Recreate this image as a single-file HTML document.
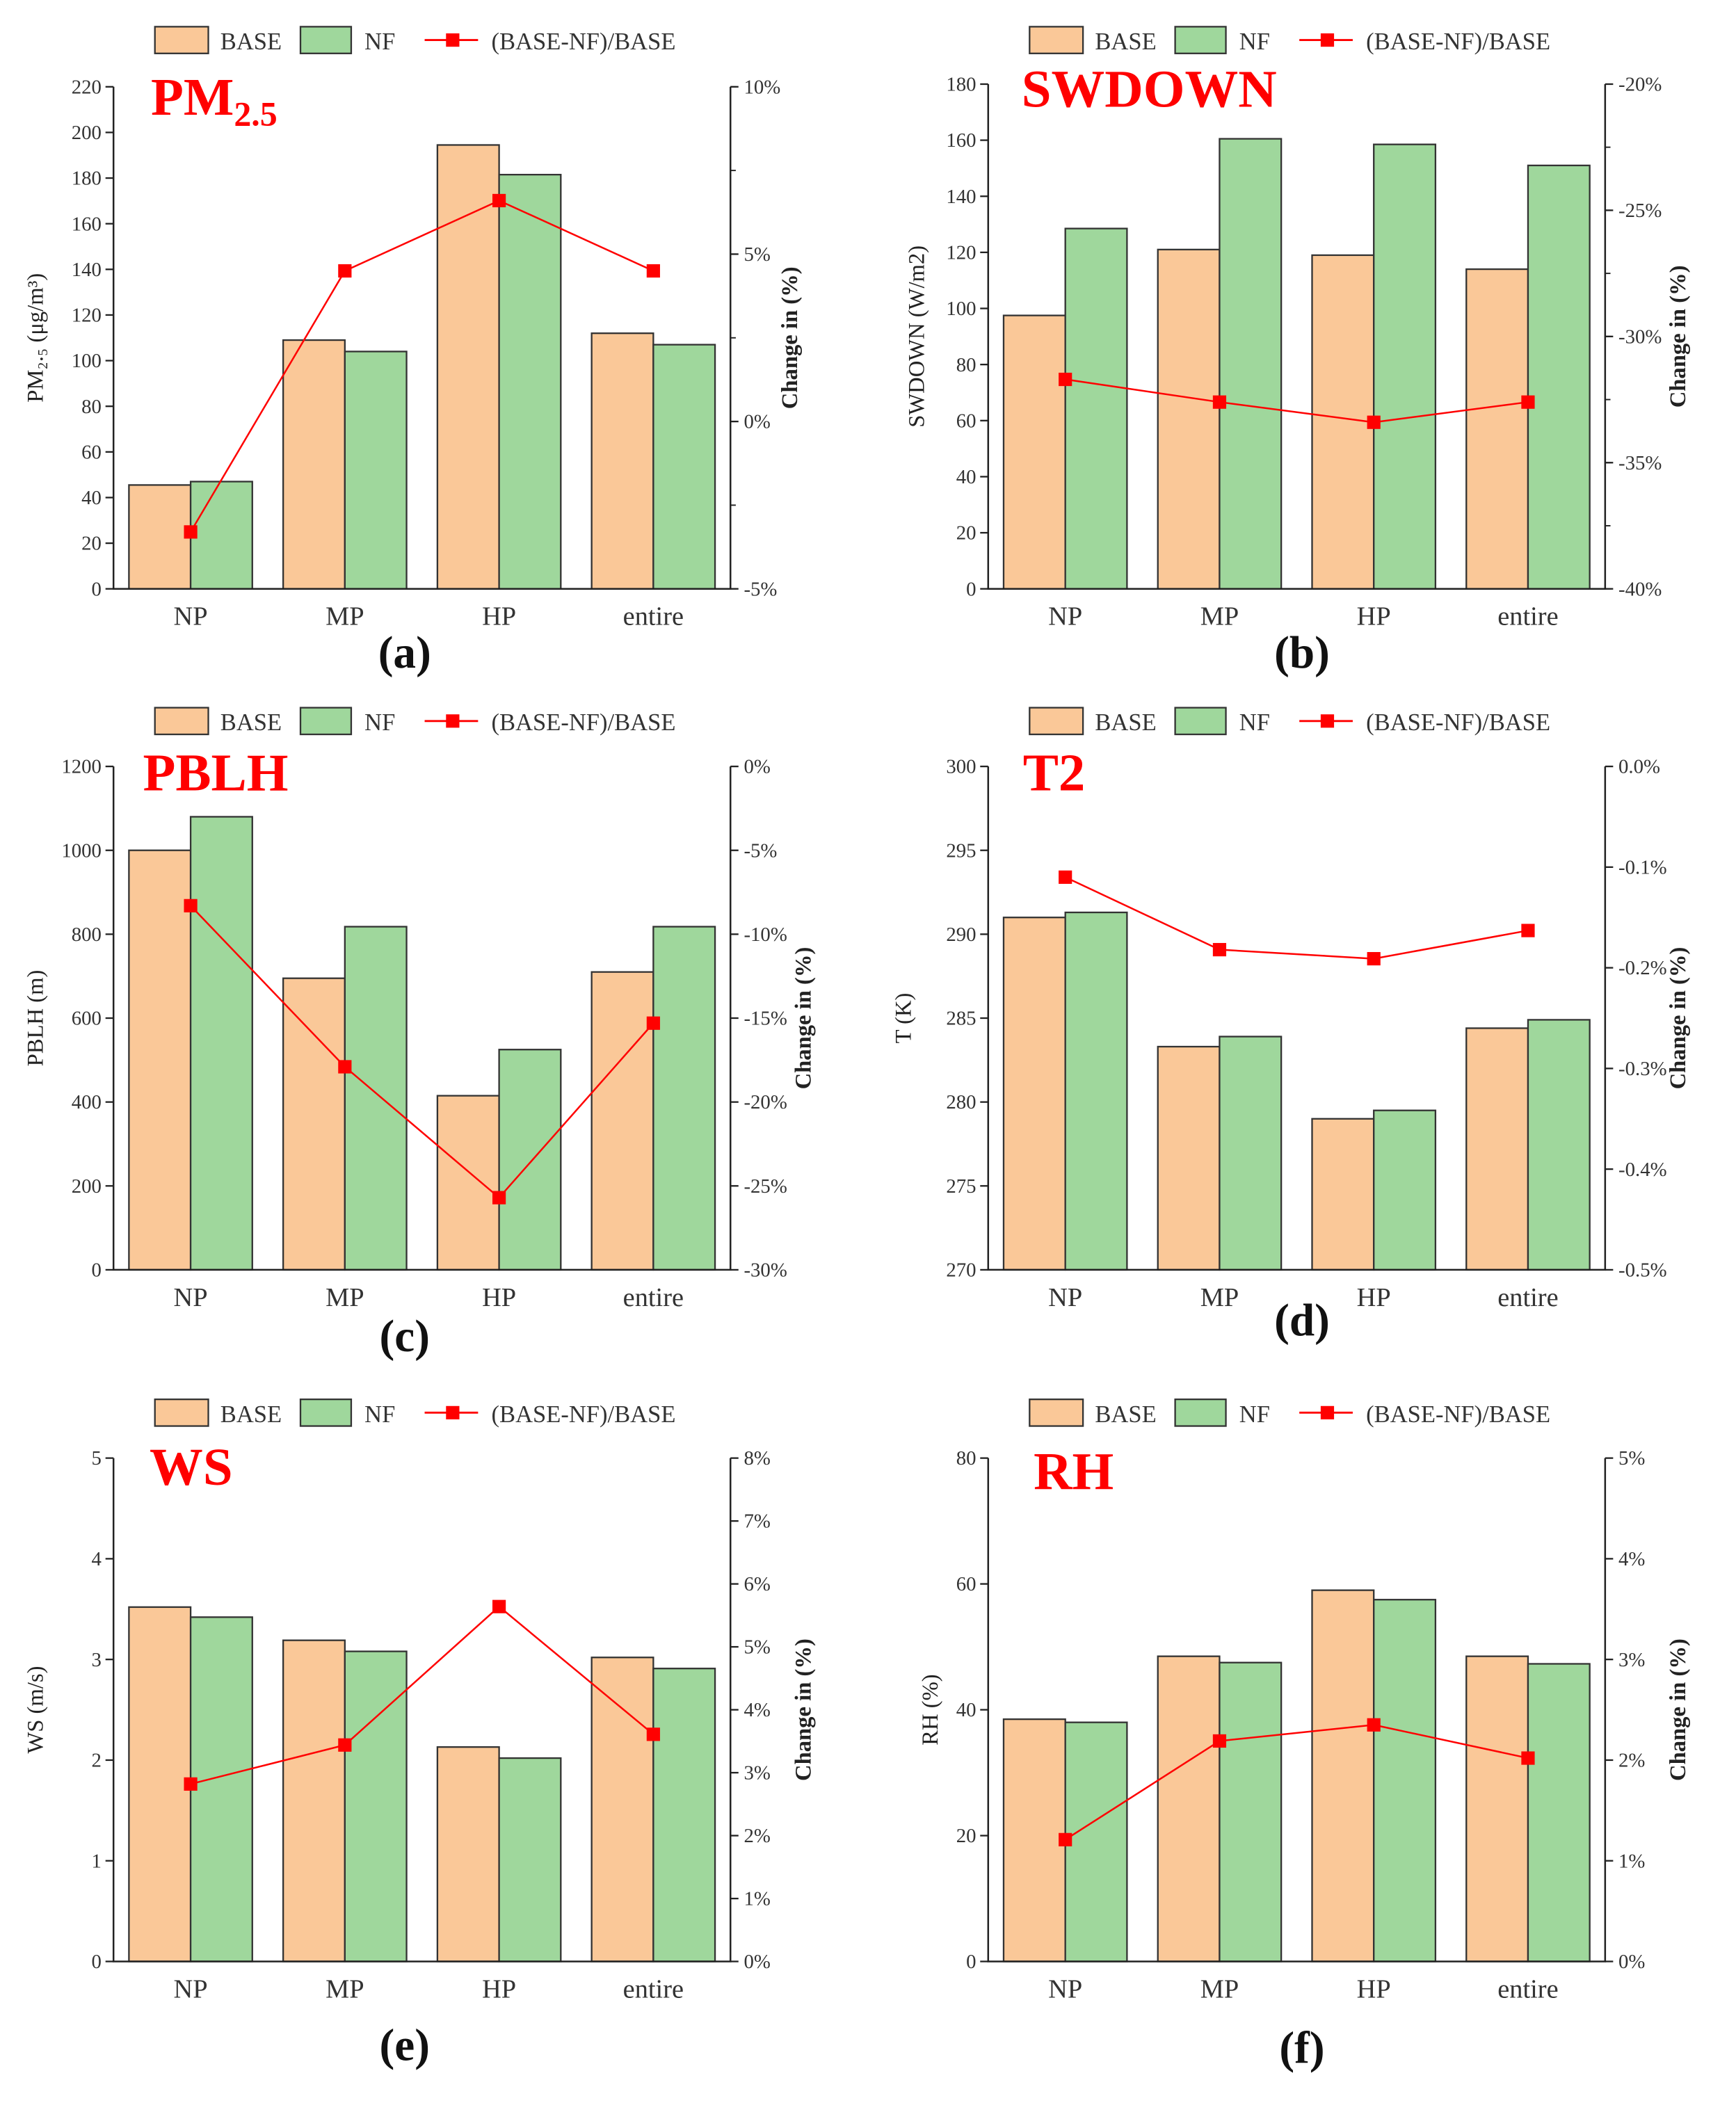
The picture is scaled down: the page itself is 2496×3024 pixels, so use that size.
<!DOCTYPE html>
<html><head><meta charset="utf-8"><style>
html,body{margin:0;padding:0;background:#fff}
svg{display:block}
text{font-family:"Liberation Serif",serif}
</style></head><body>
<svg id="fig" xmlns="http://www.w3.org/2000/svg" width="2496" height="3024" viewBox="0 0 1300 1575"></svg>
<script>
const categories=['NP','MP','HP','entire'];
const pmBase=[45.5,109,194.5,112];
const pmNF=[47,104,181.5,107];
const pmChange=[-3.3,4.5,6.6,4.5];
const swBase=[97.5,121,119,114];
const swNF=[128.5,160.5,158.5,151];
const swChange=[-31.7,-32.6,-33.4,-32.6];
const pbBase=[1000,695,415,710];
const pbNF=[1080,818,525,818];
const pbChange=[-8.3,-17.9,-25.7,-15.3];
const t2Base=[291,283.3,279,284.4];
const t2NF=[291.3,283.9,279.5,284.9];
const t2Change=[-0.110,-0.182,-0.191,-0.163];
const wsBase=[3.52,3.19,2.13,3.02];
const wsNF=[3.42,3.08,2.02,2.91];
const wsChange=[2.82,3.44,5.64,3.61];
const rhBase=[38.5,48.5,59,48.5];
const rhNF=[38,47.5,57.5,47.3];
const rhChange=[1.21,2.19,2.35,2.02];
const pmLeftTicks=[0,20,40,60,80,100,120,140,160,180,200,220];
const pmRightTicks=[-5,0,5,10];
const swLeftTicks=[0,20,40,60,80,100,120,140,160,180];
const swRightTicks=[-40,-35,-30,-25,-20];
const pbLeftTicks=[0,200,400,600,800,1000,1200];
const pbRightTicks=[-30,-25,-20,-15,-10,-5,0];
const t2LeftTicks=[270,275,280,285,290,295,300];
const t2RightTicks=[-0.5,-0.4,-0.3,-0.2,-0.1,0.0];
const wsLeftTicks=[0,1,2,3,4,5];
const wsRightTicks=[0,1,2,3,4,5,6,7,8];
const rhLeftTicks=[0,20,40,60,80];
const rhRightTicks=[0,1,2,3,4,5];

const NS='http://www.w3.org/2000/svg';
const svg=document.getElementById('fig');
function mk(tag,attrs,parent){const e=document.createElementNS(NS,tag);for(const k in attrs)e.setAttribute(k,attrs[k]);(parent||svg).appendChild(e);return e;}

const panels=[
 {id:'a',x0:85,x1:547,y0:65,y1:441,lmin:0,lmax:220,rmin:-5,rmax:10,base:pmBase,nf:pmNF,chg:pmChange,lt:pmLeftTicks,rt:pmRightTicks,rminor:2.5,rdec:0,title:'PM',sub:'2.5',tx:113,ty:86,ytitle:'PM\u2082.\u2085 (\u03bcg/m\u00b3)',ytx:32,rtx:597,lx:303,ly:500,legY:30},
 {id:'b',x0:740,x1:1202,y0:63,y1:441,lmin:0,lmax:180,rmin:-40,rmax:-20,base:swBase,nf:swNF,chg:swChange,lt:swLeftTicks,rt:swRightTicks,rminor:2.5,rdec:0,title:'SWDOWN',tx:765,ty:80,ytitle:'SWDOWN (W/m2)',ytx:692,rtx:1262,lx:975,ly:500,legY:30},
 {id:'c',x0:85,x1:547,y0:574,y1:951,lmin:0,lmax:1200,rmin:-30,rmax:0,base:pbBase,nf:pbNF,chg:pbChange,lt:pbLeftTicks,rt:pbRightTicks,rminor:0,rdec:0,title:'PBLH',tx:107,ty:592,ytitle:'PBLH (m)',ytx:32,rtx:607,lx:303,ly:1012,legY:540},
 {id:'d',x0:740,x1:1202,y0:574,y1:951,lmin:270,lmax:300,rmin:-0.5,rmax:0,base:t2Base,nf:t2NF,chg:t2Change,lt:t2LeftTicks,rt:t2RightTicks,rminor:0,rdec:1,title:'T2',tx:766,ty:592,ytitle:'T (K)',ytx:682,rtx:1262,lx:975,ly:1000,legY:540},
 {id:'e',x0:85,x1:547,y0:1092,y1:1469,lmin:0,lmax:5,rmin:0,rmax:8,base:wsBase,nf:wsNF,chg:wsChange,lt:wsLeftTicks,rt:wsRightTicks,rminor:0,rdec:0,title:'WS',tx:112,ty:1112,ytitle:'WS (m/s)',ytx:32,rtx:607,lx:303,ly:1543,legY:1058},
 {id:'f',x0:740,x1:1202,y0:1092,y1:1469,lmin:0,lmax:80,rmin:0,rmax:5,base:rhBase,nf:rhNF,chg:rhChange,lt:rhLeftTicks,rt:rhRightTicks,rminor:0,rdec:0,title:'RH',tx:774,ty:1115,ytitle:'RH (%)',ytx:702,rtx:1262,lx:975,ly:1545,legY:1058}
];

panels.forEach(p=>{
 const g=mk('g',{});
 
 
 const yL=v=>p.y1-(v-p.lmin)/(p.lmax-p.lmin)*(p.y1-p.y0);
 const yR=v=>p.y1-(v-p.rmin)/(p.rmax-p.rmin)*(p.y1-p.y0);
 const step=(p.x1-p.x0)/4;
 const xC=i=>p.x0+step*(i+0.5);
 const bw=step*0.8/2;
 // legend
 const lo=p.x0-85;
 const lg=mk('g',{},g);
 
 
 const lb=mk('rect',{x:lo+116,y:p.legY-10,width:40,height:20,fill:'#fac898',stroke:'#333','stroke-width':1.2},lg);
 
 
 const lbt=mk('text',{x:lo+165,y:p.legY+7,'font-size':18,fill:'#333'},lg);lbt.textContent='BASE';
 
 
 const ln=mk('rect',{x:lo+225,y:p.legY-10,width:38,height:20,fill:'#9fd79c',stroke:'#333','stroke-width':1.2},lg);
 
 
 const lnt=mk('text',{x:lo+273,y:p.legY+7,'font-size':18,fill:'#333'},lg);lnt.textContent='NF';
 
 
 const ll=mk('line',{x1:lo+318,x2:lo+358,y1:p.legY,y2:p.legY,stroke:'#f00','stroke-width':1.5},lg);
 
 
 const lm=mk('rect',{x:lo+334,y:p.legY-5,width:10,height:10,fill:'#f00'},lg);
 
 
 const lct=mk('text',{x:lo+368,y:p.legY+7,'font-size':18,fill:'#333'},lg);lct.textContent='(BASE-NF)/BASE';
 
 
 // bars
 categories.forEach((c,i)=>{
  const b=mk('rect',{x:xC(i)-bw,y:yL(p.base[i]),width:bw,height:p.y1-yL(p.base[i]),fill:'#fac898',stroke:'#333','stroke-width':1.2},g);
  
  
  const n=mk('rect',{x:xC(i),y:yL(p.nf[i]),width:bw,height:p.y1-yL(p.nf[i]),fill:'#9fd79c',stroke:'#333','stroke-width':1.2},g);
  
  
  const t=mk('text',{x:xC(i),y:p.y1+27,'font-size':20,'text-anchor':'middle',fill:'#333'},g);t.textContent=c;
  
  
 });
 // line
 const pl=mk('polyline',{points:p.chg.map((v,i)=>xC(i)+','+yR(v)).join(' '),fill:'none',stroke:'#f00','stroke-width':1.3},g);
 
 
 p.chg.forEach((v,i)=>{
  const m=mk('rect',{x:xC(i)-5,y:yR(v)-5,width:10,height:10,fill:'#f00'},g);
  
  
 });
 // axes
 const ax=mk('path',{d:`M${p.x0},${p.y0}V${p.y1}H${p.x1}V${p.y0}`,fill:'none',stroke:'#222','stroke-width':1.3},g);
 
 
 p.lt.forEach(v=>{
  mk('line',{x1:p.x0-6,x2:p.x0,y1:yL(v),y2:yL(v),stroke:'#222','stroke-width':1.2},g);
  const t=mk('text',{x:p.x0-9,y:yL(v)+5,'font-size':15,'text-anchor':'end',fill:'#333'},g);t.textContent=String(v);
  
  
 });
 p.rt.forEach(v=>{
  mk('line',{x1:p.x1,x2:p.x1+6,y1:yR(v),y2:yR(v),stroke:'#222','stroke-width':1.2},g);
  const t=mk('text',{x:p.x1+10,y:yR(v)+5,'font-size':15,fill:'#333'},g);t.textContent=v.toFixed(p.rdec)+'%';
  
  
 });
 if(p.rminor){for(let v=p.rmin;v<=p.rmax;v+=p.rminor){mk('line',{x1:p.x1,x2:p.x1+4,y1:yR(v),y2:yR(v),stroke:'#222','stroke-width':1},g);}}
 // titles
 const cy=(p.y0+p.y1)/2;
 const yt=mk('text',{x:p.ytx,y:cy,'font-size':17,'text-anchor':'middle',fill:'#222',transform:`rotate(-90 ${p.ytx} ${cy})`},g);yt.textContent=p.ytitle;
 
 
 const rt=mk('text',{x:p.rtx,y:cy,'font-size':17,'font-weight':'bold','text-anchor':'middle',fill:'#222',transform:`rotate(-90 ${p.rtx} ${cy})`,'xml:space':'preserve'},g);rt.textContent='Change in   (%)';
 
 
 const tt=mk('text',{x:p.tx,y:p.ty,'font-size':40,'font-weight':'bold',fill:'#f00'},g);tt.textContent=p.title;
 if(p.sub){const s=mk('tspan',{'font-size':26,dy:8},tt);s.textContent=p.sub;}
 
 
 const lt=mk('text',{x:p.lx,y:p.ly,'font-size':34,'font-weight':'bold','text-anchor':'middle',fill:'#111'},g);lt.textContent='('+p.id+')';
 
 
});
</script>
</body></html>
